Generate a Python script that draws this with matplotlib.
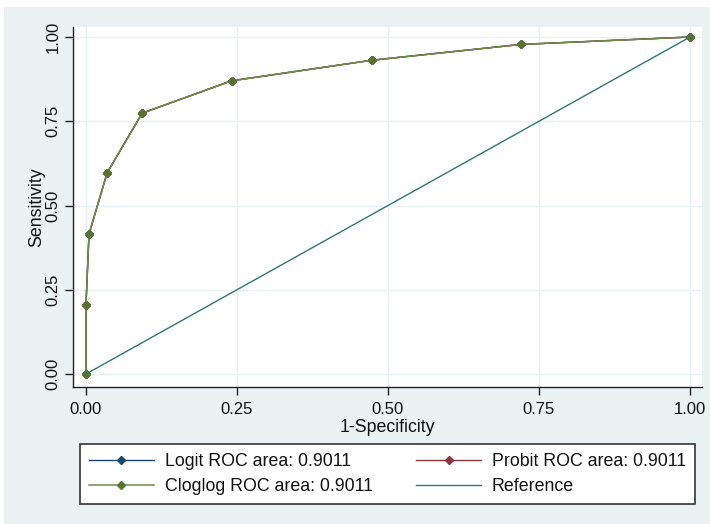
import matplotlib.pyplot as plt
from matplotlib.patches import Rectangle

plt.rcParams['font.family'] = ['Liberation Sans', 'DejaVu Sans']
plt.rcParams['font.size'] = 12

# ROC points (1-specificity, sensitivity)
fpr = [0.0, 0.0, 0.005, 0.035, 0.093, 0.241, 0.473, 0.720, 1.0]
tpr_logit = [0.0, 0.205, 0.415, 0.597, 0.774, 0.870, 0.931, 0.978, 1.0]
tpr_probit = [0.0, 0.205, 0.415, 0.597, 0.774, 0.870, 0.931, 0.978, 1.0]
tpr_cloglog = [0.0, 0.205, 0.415, 0.597, 0.774, 0.870, 0.931, 0.978, 1.0]
ref_x = [0.0, 1.0]
ref_y = [0.0, 1.0]

labels = ['Logit ROC area: 0.9011', 'Probit ROC area: 0.9011',
          'Cloglog ROC area: 0.9011', 'Reference']
ticks = [0.0, 0.25, 0.5, 0.75, 1.0]
tick_labels = ['0.00', '0.25', '0.50', '0.75', '1.00']

navy = '#1a476f'
maroon = '#90353b'
green = '#55752f'
teal = '#2f7772'
bg = '#eaf2f3'

fig = plt.figure(figsize=(7.1, 5.24), dpi=100)
fig.patch.set_facecolor('white')
fig.patches.append(Rectangle((4 / 710, 0), 1, 1 - 7 / 524, transform=fig.transFigure,
                             facecolor=bg, edgecolor='none', zorder=-5))

ax = fig.add_axes([73 / 710, 137 / 524, 629 / 710, 360 / 524])
ax.set_facecolor('white')

h1, = ax.plot(fpr, tpr_logit, color=navy, lw=1.0, marker='D', ms=4.5,
              mfc=navy, mec=navy, label=labels[0])
h2, = ax.plot(fpr, tpr_probit, color=maroon, lw=1.0, marker='D', ms=4.5,
              mfc=maroon, mec=maroon, label=labels[1])
h3, = ax.plot(fpr, tpr_cloglog, color='#6f8c48', lw=1.1, marker='D', ms=4.5,
              mfc=green, mec=green, label=labels[2])
h4, = ax.plot(ref_x, ref_y, color=teal, lw=1.0, label=labels[3])

ax.set_xlim(-0.0215, 1.0199)
ax.set_ylim(-0.0386, 1.0297)
ax.set_xticks(ticks)
ax.set_xticklabels(tick_labels)
ax.set_yticks(ticks)
ax.set_yticklabels(tick_labels, rotation=90, va='center')
ax.grid(True, color=bg, lw=1.0)
ax.set_axisbelow(True)

for s in ['top', 'right']:
    ax.spines[s].set_visible(False)
for s in ['left', 'bottom']:
    ax.spines[s].set_color('#222222')
    ax.spines[s].set_linewidth(1.0)

ax.tick_params(axis='both', direction='out', length=6, width=1.0,
               color='#222222', labelcolor='#111111')
ax.tick_params(axis='x', pad=5)
ax.tick_params(axis='y', pad=3)

ax.set_xlabel('1-Specificity', labelpad=1, color='#111111', fontsize=12.8)
ax.set_ylabel('Sensitivity', labelpad=0, color='#111111', fontsize=12.8)

# column-major fill: put Logit/Probit on the first row
leg = fig.legend(handles=[h1, h3, h2, h4], ncol=2, mode='expand',
                 loc='center', bbox_to_anchor=(80 / 710, 21 / 524, 615 / 710, 58 / 524),
                 fontsize=12.8, frameon=True, fancybox=False, framealpha=1,
                 handlelength=3.65, handletextpad=0.62, borderpad=0.5,
                 labelspacing=0.42, columnspacing=1.0, borderaxespad=0)
leg.get_frame().set_edgecolor('#333333')
leg.get_frame().set_linewidth(1.2)
leg.get_frame().set_facecolor('white')
for t in leg.get_texts():
    t.set_color('#111111')

fig.savefig('out.png', dpi=100, facecolor=fig.get_facecolor())
